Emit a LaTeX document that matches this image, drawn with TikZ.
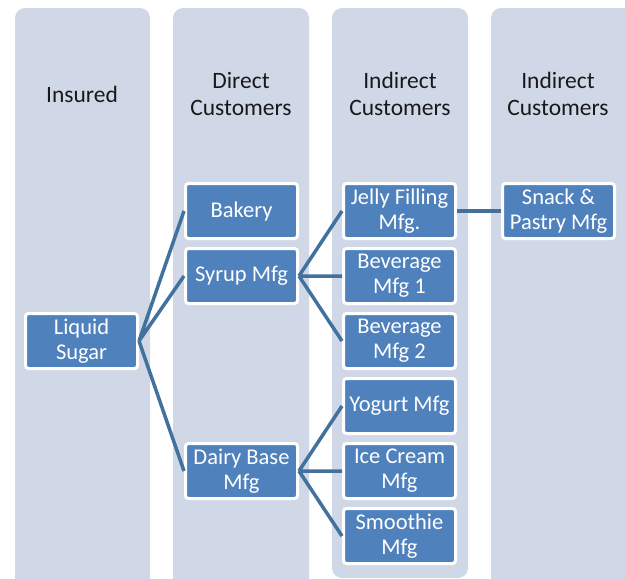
\documentclass[tikz,border=0pt]{standalone}
\usepackage{fontspec}
\setmainfont{Carlito}
\usetikzlibrary{positioning}
\definecolor{laneblue}{HTML}{D0D8E8}
\definecolor{boxblue}{HTML}{4F81BD}
\definecolor{lineblue}{HTML}{41719C}
\tikzset{
x=1pt, y=-1pt, % one unit is one pixel of the page, y runs downwards
node distance=7pt, % gap between two stacked boxes
lane/.style={fill=laneblue, rounded corners=10pt}, % background column
entity/.style={draw=white, line width=3pt, fill=boxblue, rounded corners=3pt,
  text=white, minimum width=112pt, minimum height=55pt, inner sep=1pt,
  align=center, font=\fontsize{22.5}{25}\selectfont}, % one company
heading/.style={align=center, text=black!90, font=\fontsize{23.5}{27}\selectfont}, % column title
link/.style={draw=lineblue, line width=3.5pt}, % supply relation
}

\begin{document}
\begin{tikzpicture}
    \useasboundingbox (0,0) rectangle (625,579);
    \clip (0,0) rectangle (625,579);
    % columns
    \fill[lane] (15,8) rectangle (150,592);
    \fill[lane] (173,8) rectangle (309,592);
    \fill[lane] (332,8) rectangle (468,578);
    \fill[lane] (491,8) rectangle (634,592);
    % titles
    \node[heading] (insured) at (82,94) {Insured};
    \node[heading] (direct) at (241,94) {Direct\\Customers};
    \node[heading] (indirect) at (400,94) {Indirect\\Customers};
    \node[heading] (indirect2) at (558,94) {Indirect\\Customers};
    % companies
    \node[entity] (sugar) at (81.5,341) {Liquid\\Sugar};
    \node[entity] (bakery) at (241.5,211) {Bakery};
    \node[entity, below = of bakery] (syrup) {Syrup Mfg};
    \node[entity] (dairy) at (241.5,471) {Dairy Base\\Mfg};
    \node[entity] (jelly) at (399.5,211) {Jelly Filling\\Mfg.};
    \node[entity, below = of jelly] (bev1) {Beverage\\Mfg 1};
    \node[entity, below = of bev1] (bev2) {Beverage\\Mfg 2};
    \node[entity, below = of bev2] (yogurt) {Yogurt Mfg};
    \node[entity, below = of yogurt] (icecream) {Ice Cream\\Mfg};
    \node[entity, below = of icecream] (smoothie) {Smoothie\\Mfg};
    \node[entity, right = 44pt of jelly] (snack) {Snack \&\\Pastry Mfg};
    % relations
    \draw[link] (sugar.east) -- (bakery.west)
    (sugar.east) -- (syrup.west)
    (sugar.east) -- (dairy.west);
    \draw[link] (syrup.east) -- (jelly.west)
    (syrup.east) -- (bev1.west)
    (syrup.east) -- (bev2.west);
    \draw[link] (dairy.east) -- (yogurt.west)
    (dairy.east) -- (icecream.west)
    (dairy.east) -- (smoothie.west);
    \draw[link] (jelly.east) -- (snack.west);
\end{tikzpicture}
\end{document}
